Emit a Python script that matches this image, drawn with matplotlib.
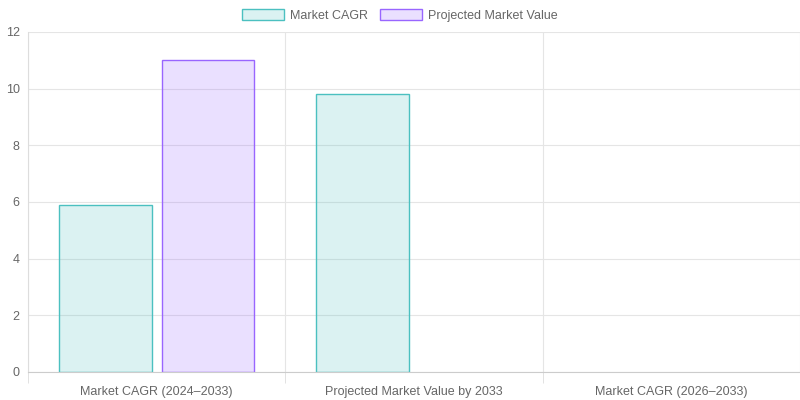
import matplotlib
matplotlib.use("Agg")
import matplotlib.pyplot as plt
import numpy as np

categories = ["Market CAGR (2024\u20132033)", "Projected Market Value by 2033", "Market CAGR (2026\u20132033)"]
cagr = [5.9, 9.8, np.nan]
proj = [11.0, np.nan, np.nan]

plt.rcParams['font.family'] = ['Liberation Sans', 'DejaVu Sans']
fig = plt.figure(figsize=(8, 4), dpi=100)
ax = fig.add_axes([28/800, 28/400, 772/800, 340/400])
x = np.arange(len(categories))
w = 0.36
ax.bar(x - 0.2, cagr, w, color=(75/255, 192/255, 192/255, 0.2), edgecolor="#4bc0c0", linewidth=1, label="Market CAGR")
ax.bar(x + 0.2, proj, w, color=(153/255, 102/255, 255/255, 0.2), edgecolor="#9966ff", linewidth=1, label="Projected Market Value")
ax.set_xlim(-0.5, 2.5)
ax.set_ylim(0, 12)
ax.set_yticks(range(0, 13, 2))
ax.set_xticks(x)
ax.set_xticklabels(categories)
ax.set_xticks([-0.5, 0.5, 1.5, 2.5], minor=True)
ax.tick_params(axis='x', which='major', length=0, pad=10, labelsize=9, labelcolor="#666")
ax.tick_params(axis='x', which='minor', length=8, color="#ddd")
ax.tick_params(axis='y', length=0, pad=6, labelsize=9, labelcolor="#666")
ax.grid(True, axis='y', color="#e5e5e5", linewidth=0.8)
ax.grid(True, axis='x', which='minor', color="#e5e5e5", linewidth=0.8)
ax.set_axisbelow(True)
for s in ["top", "right"]:
    ax.spines[s].set_visible(False)
ax.spines["left"].set_color("#ddd")
ax.spines["bottom"].set_color("#ccc")
fig.legend(loc="upper center", bbox_to_anchor=(0.5, 1.005), ncol=2, frameon=False,
           fontsize=9, labelcolor="#666", handlelength=3.3, handleheight=0.9, columnspacing=1.0, handletextpad=0.5)
fig.savefig("out.png", dpi=100)
